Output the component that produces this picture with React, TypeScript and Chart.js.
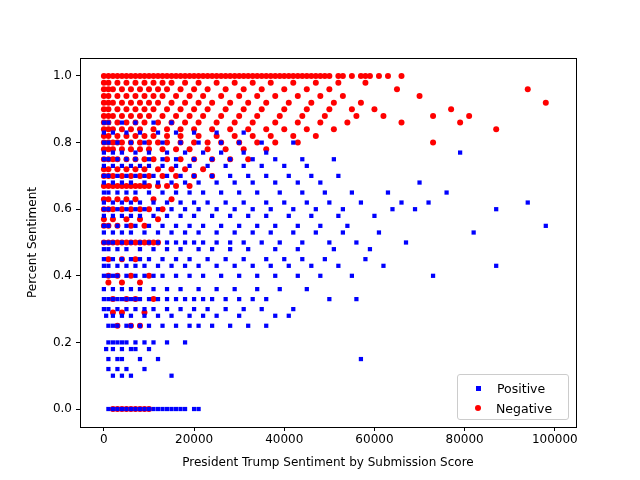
import { useEffect, useRef } from "react";
import Chart, { ChartConfiguration } from "chart.js/auto";

// rows of points: [percent sentiment, submission scores at that level]
const positiveRows: [number, number[]][] = [
  [0.0, [1000, 2000, 3000, 4000, 5000, 6000, 7000, 8000, 9000, 10000, 11000, 12000, 13000, 14000, 15000, 16000, 17000, 18000, 20000, 21000]],
  [0.1, [2000, 4000, 6000, 15000]],
  [0.12, [1000, 3000, 5000, 9000]],
  [0.15, [1000, 3000, 4000, 8000, 12000, 57000]],
  [0.18, [500, 2000, 4000, 6000, 7000, 10000]],
  [0.2, [1000, 2000, 3000, 4000, 5000, 7000, 9000, 11000, 14000, 18000]],
  [0.25, [1000, 2000, 3000, 5000, 6000, 8000, 10000, 13000, 16000, 19000, 21000, 24000, 28000, 32000, 36000]],
  [0.28, [500, 2000, 4000, 6000, 9000, 12000, 15000, 19000, 22000, 25000, 30000, 38000, 41000]],
  [0.3, [0, 1000, 3000, 5000, 7000, 9000, 11000, 14000, 17000, 20000, 23000, 27000, 31000, 35000, 42000]],
  [0.33, [0, 1000, 2000, 3000, 4000, 5000, 6000, 7000, 8000, 10000, 12000, 14000, 16000, 18000, 20000, 22000, 24000, 27000, 30000, 33000, 36000, 50000, 56000]],
  [0.36, [0, 2000, 4000, 6000, 8000, 11000, 14000, 17000, 21000, 25000, 29000, 34000, 39000, 45000]],
  [0.4, [0, 1000, 2000, 3000, 5000, 7000, 9000, 11000, 13000, 16000, 19000, 22000, 26000, 30000, 34000, 38000, 43000, 48000, 55000, 73000]],
  [0.43, [0, 1000, 3000, 5000, 7000, 9000, 12000, 15000, 18000, 21000, 25000, 29000, 33000, 37000, 41000, 46000, 52000, 62000, 87000]],
  [0.45, [0, 2000, 4000, 6000, 8000, 10000, 13000, 16000, 19000, 23000, 27000, 31000, 36000, 40000, 44000, 49000, 58000]],
  [0.48, [0, 1000, 3000, 5000, 8000, 11000, 14000, 17000, 21000, 24000, 28000, 32000, 38000, 43000, 51000, 59000]],
  [0.5, [0, 1000, 2000, 4000, 6000, 8000, 10000, 12000, 14000, 16000, 18000, 20000, 22000, 25000, 28000, 31000, 35000, 39000, 44000, 50000, 56000, 67000]],
  [0.53, [0, 2000, 4000, 6000, 9000, 12000, 15000, 18000, 21000, 25000, 29000, 33000, 37000, 42000, 47000, 53000, 61000, 82000]],
  [0.55, [0, 1000, 3000, 5000, 7000, 10000, 13000, 16000, 19000, 22000, 26000, 30000, 34000, 38000, 43000, 48000, 54000, 98000]],
  [0.58, [0, 2000, 4000, 6000, 8000, 11000, 14000, 17000, 20000, 24000, 28000, 32000, 36000, 41000, 46000, 52000, 60000]],
  [0.6, [0, 1000, 3000, 5000, 7000, 9000, 12000, 15000, 18000, 21000, 25000, 29000, 33000, 37000, 42000, 47000, 53000, 64000, 69000, 87000]],
  [0.62, [0, 2000, 4000, 6000, 8000, 11000, 14000, 17000, 20000, 23000, 27000, 31000, 36000, 40000, 45000, 50000, 57000, 66000, 72000, 94000]],
  [0.65, [0, 1000, 3000, 5000, 7000, 10000, 13000, 16000, 19000, 22000, 26000, 30000, 34000, 39000, 44000, 49000, 55000, 63000, 76000]],
  [0.68, [0, 2000, 4000, 6000, 9000, 12000, 15000, 18000, 21000, 25000, 29000, 33000, 38000, 43000, 48000, 70000]],
  [0.7, [0, 1000, 3000, 5000, 7000, 9000, 11000, 14000, 17000, 20000, 24000, 28000, 32000, 36000, 41000, 46000, 52000]],
  [0.73, [0, 2000, 4000, 6000, 8000, 10000, 13000, 16000, 19000, 23000, 27000, 31000, 35000, 40000, 45000]],
  [0.75, [0, 1000, 3000, 5000, 7000, 10000, 13000, 16000, 20000, 24000, 28000, 33000, 38000, 44000, 51000]],
  [0.77, [0, 2000, 4000, 7000, 10000, 14000, 18000, 22000, 26000, 31000, 36000, 79000]],
  [0.8, [0, 1000, 3000, 6000, 9000, 13000, 17000, 21000, 26000, 30000, 35000, 42000]],
  [0.83, [0, 2000, 5000, 8000, 12000, 16000, 20000, 25000, 31000]],
  [0.86, [0, 1000, 4000, 7000, 11000, 15000]],
];

const negativeRows: [number, number[]][] = [
  [0.0, [2000, 3000, 4000, 5000, 6000, 7000, 8000, 9000, 10000]],
  [0.25, [3000, 6000, 8000]],
  [0.29, [2000, 4000, 9000]],
  [0.33, [2000, 5000, 7000, 11000]],
  [0.38, [1000, 4000, 8000]],
  [0.4, [1000, 3000, 6000, 10000]],
  [0.45, [1000, 4000, 7000]],
  [0.5, [0, 1000, 2000, 3000, 4000, 5000, 6000, 7000, 8000, 9000, 10000, 11000, 12000]],
  [0.55, [0, 1000, 3000, 6000, 9000]],
  [0.57, [0, 2000, 5000, 8000, 12000]],
  [0.6, [0, 1000, 2000, 4000, 6000, 8000, 10000, 13000]],
  [0.63, [0, 1000, 3000, 5000, 7000, 11000, 15000]],
  [0.67, [0, 1000, 2000, 3000, 4000, 5000, 6000, 7000, 8000, 9000, 10000, 12000, 14000, 16000, 19000]],
  [0.7, [0, 1000, 2000, 4000, 6000, 8000, 10000, 13000, 16000, 20000, 24000]],
  [0.72, [0, 1000, 3000, 5000, 7000, 9000, 12000, 15000, 18000, 22000]],
  [0.75, [0, 1000, 2000, 3000, 5000, 7000, 9000, 11000, 14000, 17000, 20000, 24000, 28000, 32000]],
  [0.78, [0, 1000, 2000, 4000, 6000, 8000, 10000, 13000, 16000, 19000, 23000, 27000, 31000, 36000]],
  [0.8, [0, 1000, 2000, 3000, 4000, 6000, 8000, 10000, 12000, 14000, 17000, 20000, 23000, 26000, 30000, 34000, 38000, 43000, 73000]],
  [0.82, [0, 1000, 3000, 5000, 7000, 9000, 11000, 14000, 17000, 21000, 25000, 29000, 33000, 37000, 42000, 47000]],
  [0.84, [0, 1000, 2000, 4000, 6000, 8000, 11000, 14000, 17000, 20000, 24000, 28000, 32000, 36000, 40000, 45000, 51000, 87000]],
  [0.86, [0, 1000, 3000, 5000, 7000, 9000, 12000, 15000, 18000, 21000, 25000, 29000, 33000, 38000, 43000, 48000, 54000, 66000, 79000]],
  [0.88, [0, 1000, 2000, 4000, 6000, 8000, 10000, 13000, 16000, 19000, 22000, 26000, 30000, 34000, 39000, 44000, 49000, 56000, 62000, 73000, 81000]],
  [0.9, [0, 1000, 3000, 5000, 7000, 9000, 11000, 14000, 17000, 20000, 23000, 27000, 31000, 35000, 40000, 45000, 50000, 55000, 60000, 77000]],
  [0.92, [0, 1000, 2000, 4000, 6000, 8000, 10000, 12000, 15000, 18000, 21000, 24000, 28000, 32000, 36000, 41000, 46000, 51000, 57000, 98000]],
  [0.94, [0, 1000, 3000, 5000, 7000, 9000, 11000, 13000, 16000, 19000, 22000, 26000, 30000, 34000, 38000, 43000, 48000, 53000, 70000]],
  [0.96, [0, 1000, 2000, 4000, 6000, 8000, 10000, 12000, 14000, 17000, 20000, 23000, 27000, 31000, 35000, 40000, 45000, 50000, 65000, 94000]],
  [0.98, [0, 1000, 3000, 5000, 7000, 9000, 11000, 13000, 15000, 18000, 21000, 25000, 29000, 33000, 37000, 42000, 47000, 52000, 58000]],
  [1.0, [0, 1000, 2000, 3000, 4000, 5000, 6000, 7000, 8000, 9000, 10000, 11000, 12000, 13000, 14000, 15000, 16000, 17000, 18000, 19000, 20000, 21000, 22000, 23000, 24000, 25000, 26000, 27000, 28000, 29000, 30000, 31000, 32000, 33000, 34000, 35000, 36000, 37000, 38000, 39000, 40000, 41000, 42000, 43000, 44000, 45000, 46000, 47000, 48000, 49000, 50000, 52000, 53000, 55000, 57000, 58000, 59000, 61000, 63000, 66000]],
];

const xTicks = [0, 20000, 40000, 60000, 80000, 100000];
const yTicks = [0, 0.2, 0.4, 0.6, 0.8, 1.0];

const toPoints = (rows: [number, number[]][]) =>
  rows.flatMap(([y, xs]) => xs.map((x) => ({ x, y })));

const frame = {
  id: "frame",
  afterDraw(chart: Chart) {
    const { ctx, chartArea: a } = chart;
    ctx.save();
    ctx.strokeStyle = "#000";
    ctx.lineWidth = 1;
    ctx.strokeRect(a.left + 0.5, a.top + 0.5, a.right - a.left, a.bottom - a.top);
    ctx.restore();
  },
};

const App = () => {
  const chartRef = useRef<HTMLCanvasElement | null>(null);
  const chartInstance = useRef<Chart | null>(null);

  useEffect(() => {
    document.body.style.margin = "0";
    if (!chartRef.current) return;
    chartInstance.current?.destroy();
    const ctx = chartRef.current.getContext("2d");
    if (!ctx) return;

    const font = { family: "DejaVu Sans", size: 12 };
    const config: ChartConfiguration = {
      type: "scatter",
      data: {
        datasets: [
          {
            label: "Positive",
            data: toPoints(positiveRows),
            pointStyle: "rect",
            pointRadius: 3,
            backgroundColor: "#0000ff",
            borderWidth: 0,
          },
          {
            label: "Negative",
            data: toPoints(negativeRows),
            pointStyle: "circle",
            pointRadius: 3,
            backgroundColor: "#ff0000",
            borderWidth: 0,
          },
        ],
      },
      options: {
        responsive: false,
        animation: false,
        layout: { padding: { left: 0, top: 58, right: 64, bottom: 0 } },
        plugins: { legend: { display: false }, tooltip: { enabled: false } },
        scales: {
          x: {
            type: "linear",
            min: -5300,
            max: 104700,
            afterBuildTicks: (s: any) => { s.ticks = xTicks.map((value) => ({ value })); },
            afterFit: (s: any) => { s.height = 53; },
            grid: { drawOnChartArea: false, tickLength: 4, color: "#000" },
            border: { color: "#000" },
            ticks: { color: "#000", font, padding: 2, maxRotation: 0, callback: (v: any) => String(v) },
            title: { display: true, text: "President Trump Sentiment by Submission Score", color: "#000", font, padding: { top: 2, bottom: 10 } },
          },
          y: {
            type: "linear",
            min: -0.054,
            max: 1.054,
            afterBuildTicks: (s: any) => { s.ticks = yTicks.map((value) => ({ value })); },
            afterFit: (s: any) => { s.width = 80; },
            grid: { drawOnChartArea: false, tickLength: 4, color: "#000" },
            border: { color: "#000" },
            ticks: { color: "#000", font, padding: 4, callback: (v: any) => Number(v).toFixed(1) },
            title: { display: true, text: "Percent Sentiment", color: "#000", font, padding: { top: 26, bottom: 0 } },
          },
        },
      },
      plugins: [frame],
    };

    chartInstance.current = new Chart(ctx, config);
    return () => {
      chartInstance.current?.destroy();
    };
  }, []);

  const row = { display: "flex", alignItems: "center", height: 20 } as const;
  return (
    <div style={{ position: "relative", width: 640, height: 480, background: "#fff" }}>
      <canvas ref={chartRef} width={640} height={480} />
      <div
        style={{
          position: "absolute", left: 457, top: 374, width: 112, height: 46, boxSizing: "border-box",
          border: "1px solid #ccc", borderRadius: 3, background: "rgba(255,255,255,0.8)",
          fontFamily: "DejaVu Sans", fontSize: 12.5, padding: "3px 0 0 10px",
        }}
      >
        <div style={row}>
          <span style={{ width: 5, height: 5, background: "#0000ff", marginRight: 16, marginLeft: 8 }} />Positive
        </div>
        <div style={row}>
          <span style={{ width: 6, height: 6, borderRadius: 3, background: "#ff0000", marginRight: 15, marginLeft: 7 }} />Negative
        </div>
      </div>
    </div>
  );
};

export default App;
